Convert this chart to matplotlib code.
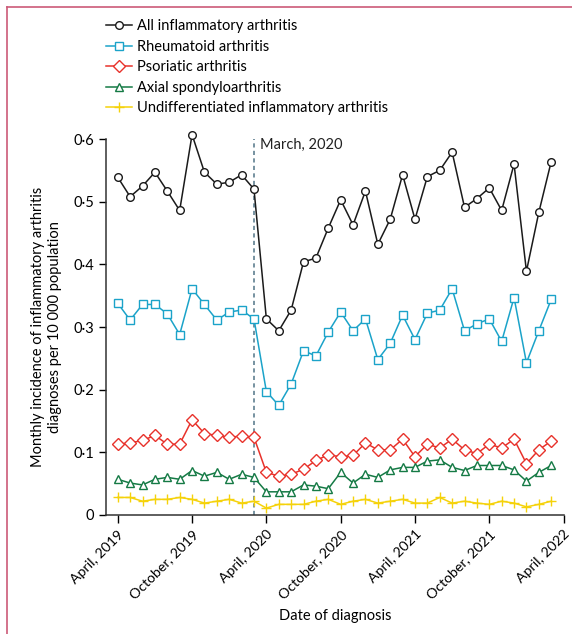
import matplotlib
matplotlib.use("Agg")
import matplotlib.pyplot as plt
from matplotlib.lines import Line2D
from matplotlib.ticker import FuncFormatter

plt.rcParams['font.family'] = ['Lato', 'DejaVu Sans']

# months since April 2019 (0 = April 2019, 35 = March 2022)
months = list(range(36))

all_ia = [0.539, 0.508, 0.525, 0.547, 0.517, 0.486, 0.607, 0.547, 0.528, 0.531, 0.543, 0.520,
          0.313, 0.294, 0.327, 0.404, 0.410, 0.458, 0.503, 0.463, 0.517, 0.432, 0.472, 0.543,
          0.472, 0.540, 0.550, 0.579, 0.491, 0.505, 0.522, 0.486, 0.560, 0.389, 0.483, 0.564]
ra = [0.338, 0.311, 0.336, 0.336, 0.321, 0.288, 0.361, 0.336, 0.311, 0.324, 0.327, 0.313,
      0.197, 0.175, 0.209, 0.262, 0.254, 0.292, 0.324, 0.294, 0.313, 0.248, 0.274, 0.319,
      0.280, 0.322, 0.327, 0.361, 0.294, 0.305, 0.313, 0.277, 0.347, 0.243, 0.294, 0.344]
psa = [0.113, 0.115, 0.119, 0.127, 0.113, 0.113, 0.152, 0.130, 0.127, 0.124, 0.126, 0.124,
       0.068, 0.062, 0.065, 0.073, 0.087, 0.096, 0.093, 0.095, 0.115, 0.104, 0.104, 0.121,
       0.093, 0.113, 0.107, 0.121, 0.104, 0.098, 0.113, 0.107, 0.121, 0.082, 0.104, 0.118]
axspa = [0.057, 0.051, 0.048, 0.057, 0.060, 0.057, 0.071, 0.062, 0.068, 0.057, 0.065, 0.060,
         0.037, 0.037, 0.037, 0.048, 0.046, 0.042, 0.068, 0.051, 0.065, 0.060, 0.072, 0.076,
         0.076, 0.086, 0.088, 0.076, 0.071, 0.079, 0.079, 0.079, 0.072, 0.054, 0.068, 0.079]
uia = [0.028, 0.028, 0.022, 0.025, 0.025, 0.028, 0.025, 0.019, 0.022, 0.025, 0.019, 0.022,
       0.011, 0.017, 0.017, 0.017, 0.022, 0.025, 0.017, 0.022, 0.025, 0.019, 0.022, 0.025,
       0.019, 0.019, 0.028, 0.019, 0.022, 0.019, 0.017, 0.022, 0.019, 0.013, 0.017, 0.022]

tick_pos = [0, 6, 12, 18, 24, 30, 36]
tick_labels = ["April, 2019", "October, 2019", "April, 2020", "October, 2020",
               "April, 2021", "October, 2021", "April, 2022"]
yticks = [0, 0.1, 0.2, 0.3, 0.4, 0.5, 0.6]

fig = plt.figure(figsize=(5.72, 6.34), dpi=100)
ax = fig.add_axes([0.1853, 0.1877, 0.800, 0.593])

ax.axvline(11, color='#5f7f90', linestyle=(0, (2.5, 2)), linewidth=1.2, zorder=1)
ax.text(11.5, 0.59, "March, 2020", fontsize=10.5, color='#222222', va='center', ha='left')

series = [
    ("All inflammatory arthritis", all_ia, '#1a1a1a', 'o', 5.5),
    ("Rheumatoid arthritis", ra, '#1ba3c9', 's', 5.5),
    ("Psoriatic arthritis", psa, '#e8322b', 'D', 6),
    ("Axial spondyloarthritis", axspa, '#157a45', '^', 6),
    ("Undifferentiated inflammatory arthritis", uia, '#f5d20a', '+', 6.5),
]
for name, vals, col, mk, ms in series:
    ax.plot(months, vals, color=col, marker=mk, markersize=ms, linewidth=1.1,
            markerfacecolor='white', markeredgecolor=col, markeredgewidth=1.0,
            label=name, zorder=3, clip_on=False)

ax.set_xlim(-0.95, 36)
ax.set_ylim(0, 0.6)
ax.set_xticks(tick_pos)
ax.set_xticklabels(tick_labels, rotation=45, ha='right', rotation_mode='anchor', fontsize=10.2)
ax.set_yticks(yticks)
ax.yaxis.set_major_formatter(FuncFormatter(lambda v, p: "0" if v == 0 else f"{v:.1f}".replace(".", "\u00b7")))
ax.tick_params(axis='y', labelsize=10.5, length=5, width=1, direction='out')
ax.tick_params(axis='x', length=6, width=1, direction='out')
for s in ['top', 'right']:
    ax.spines[s].set_visible(False)
for s in ['left', 'bottom']:
    ax.spines[s].set_linewidth(1.1)
    ax.spines[s].set_color('#333333')

ax.set_ylabel("Monthly incidence of inflammatory arthritis\ndiagnoses per 10 000 population",
              fontsize=10.5, labelpad=8, linespacing=1.3)
ax.set_xlabel("Date of diagnosis", fontsize=10.5, labelpad=6)

fig.legend(loc='upper left', bbox_to_anchor=(0.175, 0.979), frameon=False, fontsize=10.5,
           handlelength=1.8, handletextpad=0.3, labelspacing=0.45, borderaxespad=0)

# pink frame on top and left
fig.add_artist(Line2D([0.0122, 1.0], [0.989, 0.989], color='#cc5a78', linewidth=1.2,
                      transform=fig.transFigure))
fig.add_artist(Line2D([0.0122, 0.0122], [0.0, 0.989], color='#cc5a78', linewidth=1.2,
                      transform=fig.transFigure))

fig.savefig("out.png", dpi=100)
